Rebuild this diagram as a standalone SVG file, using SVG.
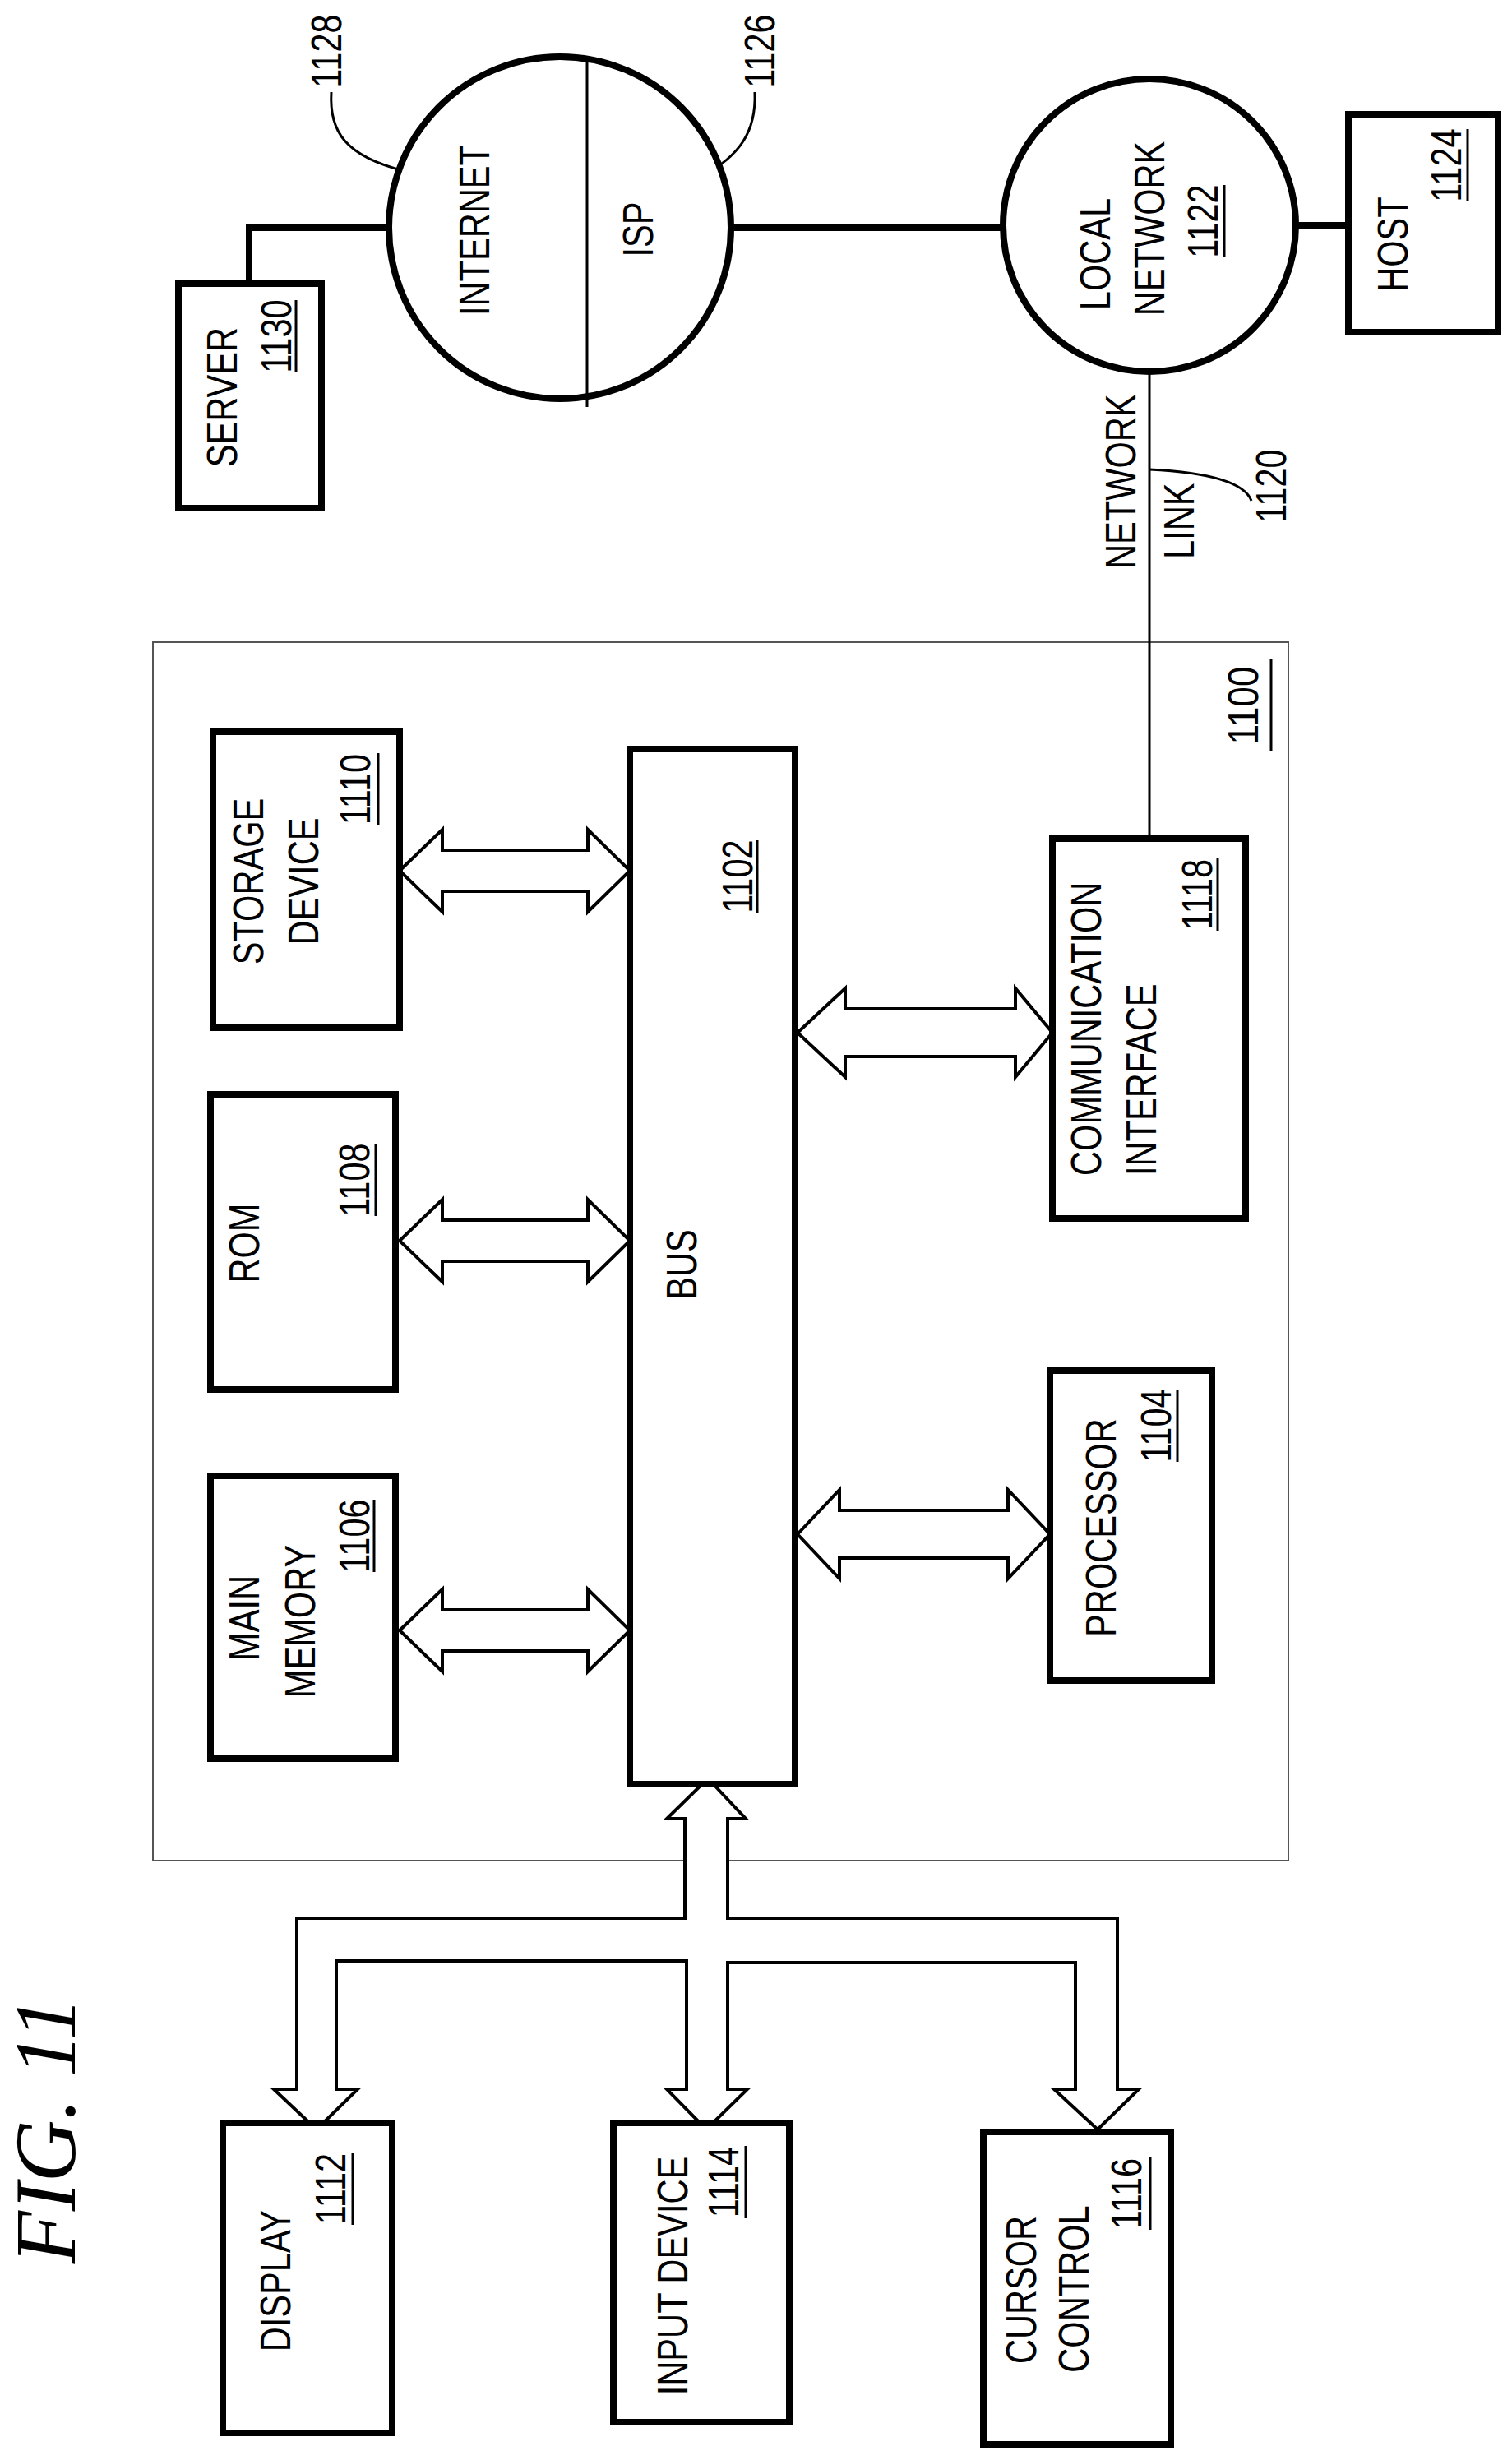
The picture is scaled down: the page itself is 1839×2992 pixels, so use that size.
<svg xmlns="http://www.w3.org/2000/svg" width="1839" height="2992" viewBox="0 0 1839 2992">
<style>
.b{fill:#fff;stroke:#000;stroke-width:8}
.a{fill:#fff;stroke:#000;stroke-width:4;stroke-linejoin:miter}
.t{font-family:"Liberation Sans",Arial,sans-serif;font-size:52px;fill:#000}
.u{stroke:#000;stroke-width:3}
.th{fill:none;stroke:#000;stroke-width:3}
.w{fill:none;stroke:#000;stroke-width:8}
</style>
<rect width="1839" height="2992" fill="#fff"/>
<g id="fig"><text transform="translate(91,2591) rotate(-90)" text-anchor="middle" font-family="Liberation Serif,serif" font-style="italic" font-size="105">FIG. 11</text></g>
<g id="n1100"><rect x="186" y="781" width="1381" height="1482" fill="none" stroke="#555" stroke-width="2"/>
<text transform="translate(1530,858) rotate(-90) scale(0.85,1)" text-anchor="middle" class="t" font-size="72">1100</text><line class="u" x1="1546" y1="802" x2="1546" y2="914"/></g>
<g id="connectors">
<polyline class="w" points="303,345 303,277 474,277"/>
<line class="w" x1="889" y1="277" x2="1220" y2="277"/>
<line class="w" x1="1576" y1="274" x2="1640" y2="274"/>
<line class="th" stroke-width="7" x1="1398" y1="452" x2="1398" y2="1020"/>
<path class="th" d="M403,112 C400,160 420,190 492,208"/>
<path class="th" d="M918,112 C920,160 900,190 851,216"/>
<path class="th" d="M1398,571 C1480,575 1515,590 1522,609"/>
<polygon class="a" points="486,1059 538,1009 538,1034 715,1034 715,1009 766,1059 715,1109 715,1084 538,1084 538,1109"/>
<polygon class="a" points="486,1509 538,1459 538,1484 715,1484 715,1459 766,1509 715,1559 715,1534 538,1534 538,1559"/>
<polygon class="a" points="486,1983 538,1933 538,1958 715,1958 715,1933 766,1983 715,2033 715,2008 538,2008 538,2033"/>
<polygon class="a" points="970,1256 1028,1202 1028,1227 1235,1227 1235,1202 1280,1256 1235,1310 1235,1285 1028,1285 1028,1310"/>
<polygon class="a" points="970,1866 1021,1812 1021,1837 1226,1837 1226,1812 1277,1866 1226,1920 1226,1895 1021,1895 1021,1920"/>
<polygon class="a" points="861,2163 907,2212 885,2212 885,2333 1359,2333 1359,2541 1385,2541 1335,2590 1282,2541 1308,2541 1308,2387 885,2387 885,2541 909,2541 859,2590 811,2541 835,2541 835,2385 409,2385 409,2541 435,2541 385,2590 333,2541 361,2541 361,2333 833,2333 833,2212 811,2212"/>
</g>
<g id="n1130"><rect class="b" x="217" y="345" width="174" height="273"/>
<text class="t" transform="translate(288,483) rotate(-90) scale(0.8,1)" text-anchor="middle">SERVER</text>
<text class="t" transform="translate(354,409) rotate(-90) scale(0.8,1)" text-anchor="middle">1130</text><line class="u" x1="360" y1="365" x2="360" y2="453"/></g>
<g id="n1128"><circle class="b" cx="681" cy="277" r="208"/><line class="th" x1="714" y1="72" x2="714" y2="495"/>
<text class="t" transform="translate(595,280) rotate(-90) scale(0.8,1)" text-anchor="middle">INTERNET</text>
<text class="t" transform="translate(415,62) rotate(-90) scale(0.8,1)" text-anchor="middle">1128</text></g>
<g id="n1126"><text class="t" transform="translate(794,279) rotate(-90) scale(0.8,1)" text-anchor="middle">ISP</text>
<text class="t" transform="translate(942,62) rotate(-90) scale(0.8,1)" text-anchor="middle">1126</text></g>
<g id="n1122"><circle class="b" cx="1398" cy="274" r="178"/>
<text class="t" transform="translate(1350,309) rotate(-90) scale(0.8,1)" text-anchor="middle">LOCAL</text>
<text class="t" transform="translate(1416,278) rotate(-90) scale(0.8,1)" text-anchor="middle">NETWORK</text>
<text class="t" transform="translate(1481,269) rotate(-90) scale(0.8,1)" text-anchor="middle">1122</text><line class="u" x1="1489" y1="225" x2="1489" y2="313"/></g>
<g id="n1124"><rect class="b" x="1640" y="139" width="182" height="265"/>
<text class="t" transform="translate(1712,297) rotate(-90) scale(0.8,1)" text-anchor="middle">HOST</text>
<text class="t" transform="translate(1777,201) rotate(-90) scale(0.8,1)" text-anchor="middle">1124</text><line class="u" x1="1785" y1="157" x2="1785" y2="245"/></g>
<g id="n1120"><text class="t" transform="translate(1381,692) rotate(-90) scale(0.8,1)">NETWORK</text>
<text class="t" transform="translate(1452,680) rotate(-90) scale(0.8,1)">LINK</text>
<text class="t" transform="translate(1564,591) rotate(-90) scale(0.8,1)" text-anchor="middle">1120</text></g>
<g id="n1110"><rect class="b" x="259" y="890" width="227" height="360"/>
<text class="t" transform="translate(320,1072) rotate(-90) scale(0.8,1)" text-anchor="middle">STORAGE</text>
<text class="t" transform="translate(387,1072) rotate(-90) scale(0.8,1)" text-anchor="middle">DEVICE</text>
<text class="t" transform="translate(450,960) rotate(-90) scale(0.8,1)" text-anchor="middle">1110</text><line class="u" x1="460" y1="916" x2="460" y2="1004"/></g>
<g id="n1108"><rect class="b" x="256" y="1331" width="225" height="359"/>
<text class="t" transform="translate(315,1512) rotate(-90) scale(0.8,1)" text-anchor="middle">ROM</text>
<text class="t" transform="translate(449,1435) rotate(-90) scale(0.8,1)" text-anchor="middle">1108</text><line class="u" x1="457" y1="1391" x2="457" y2="1479"/></g>
<g id="n1106"><rect class="b" x="256" y="1795" width="225" height="344"/>
<text class="t" transform="translate(315,1968) rotate(-90) scale(0.8,1)" text-anchor="middle">MAIN</text>
<text class="t" transform="translate(383,1972) rotate(-90) scale(0.8,1)" text-anchor="middle">MEMORY</text>
<text class="t" transform="translate(449,1868) rotate(-90) scale(0.8,1)" text-anchor="middle">1106</text><line class="u" x1="455" y1="1824" x2="455" y2="1912"/></g>
<g id="n1102"><rect class="b" x="766" y="911" width="201" height="1259"/>
<text class="t" transform="translate(847,1538) rotate(-90) scale(0.8,1)" text-anchor="middle">BUS</text>
<text class="t" transform="translate(915,1066) rotate(-90) scale(0.8,1)" text-anchor="middle">1102</text><line class="u" x1="921" y1="1022" x2="921" y2="1110"/></g>
<g id="n1118"><rect class="b" x="1280" y="1020" width="235" height="462"/>
<text class="t" transform="translate(1339,1430) rotate(-90) scale(0.8,1)">COMMUNICATION</text>
<text class="t" transform="translate(1406,1430) rotate(-90) scale(0.8,1)">INTERFACE</text>
<text class="t" transform="translate(1474,1088) rotate(-90) scale(0.8,1)" text-anchor="middle">1118</text><line class="u" x1="1481" y1="1044" x2="1481" y2="1132"/></g>
<g id="n1104"><rect class="b" x="1277" y="1667" width="197" height="377"/>
<text class="t" transform="translate(1357,1858) rotate(-90) scale(0.8,1)" text-anchor="middle">PROCESSOR</text>
<text class="t" transform="translate(1424,1734) rotate(-90) scale(0.8,1)" text-anchor="middle">1104</text><line class="u" x1="1432" y1="1690" x2="1432" y2="1778"/></g>
<g id="n1112"><rect class="b" x="271" y="2582" width="206" height="377"/>
<text class="t" transform="translate(353,2774) rotate(-90) scale(0.8,1)" text-anchor="middle">DISPLAY</text>
<text class="t" transform="translate(420,2662) rotate(-90) scale(0.8,1)" text-anchor="middle">1112</text><line class="u" x1="429" y1="2618" x2="429" y2="2706"/></g>
<g id="n1114"><rect class="b" x="746" y="2582" width="214" height="364"/>
<text class="t" transform="translate(836,2768) rotate(-90) scale(0.8,1)" text-anchor="middle">INPUT DEVICE</text>
<text class="t" transform="translate(898,2654) rotate(-90) scale(0.8,1)" text-anchor="middle">1114</text><line class="u" x1="907" y1="2610" x2="907" y2="2698"/></g>
<g id="n1116"><rect class="b" x="1196" y="2593" width="228" height="380"/>
<text class="t" transform="translate(1260,2785) rotate(-90) scale(0.8,1)" text-anchor="middle">CURSOR</text>
<text class="t" transform="translate(1324,2784) rotate(-90) scale(0.8,1)" text-anchor="middle">CONTROL</text>
<text class="t" transform="translate(1388,2668) rotate(-90) scale(0.8,1)" text-anchor="middle">1116</text><line class="u" x1="1399" y1="2624" x2="1399" y2="2712"/></g>
</svg>
